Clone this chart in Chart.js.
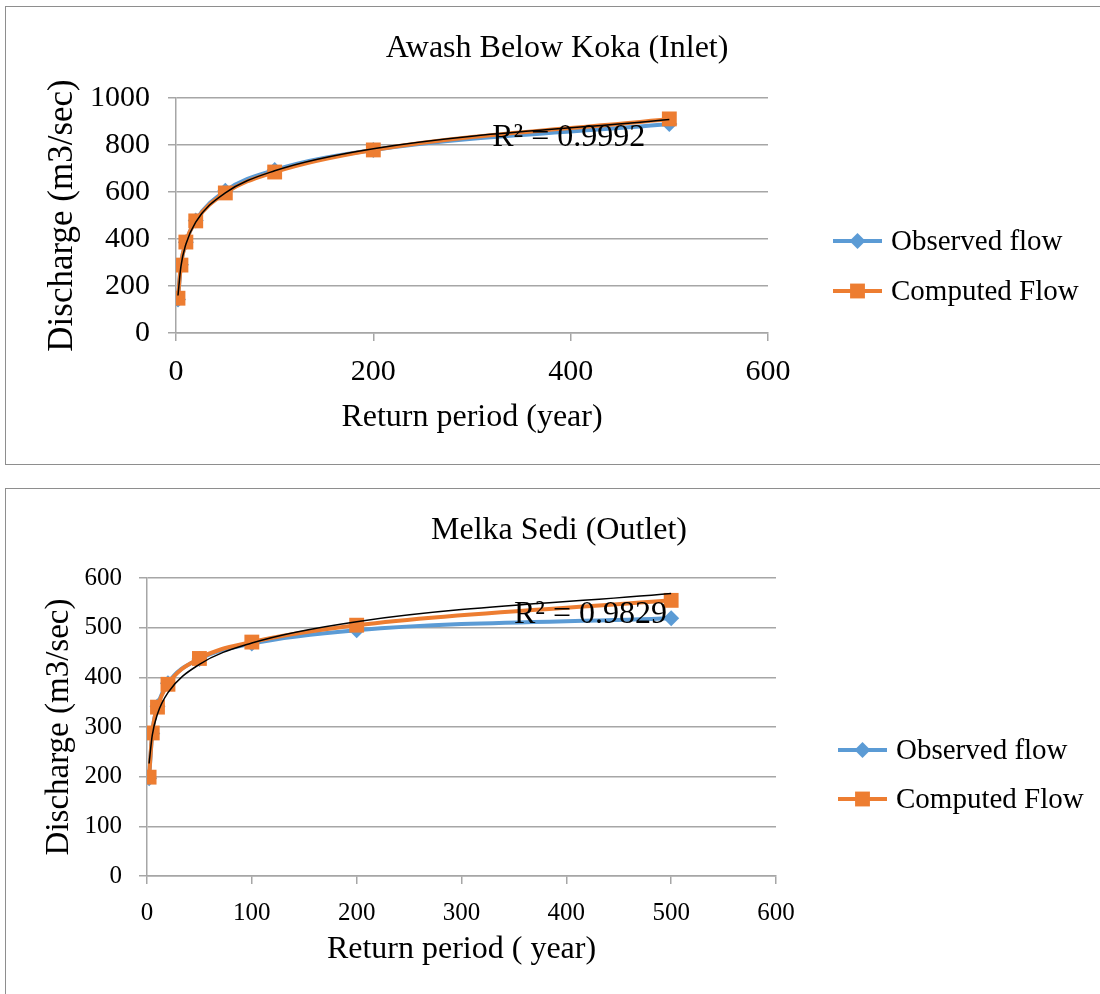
<!DOCTYPE html>
<html>
<head>
<meta charset="utf-8">
<script src="https://cdn.jsdelivr.net/npm/chart.js@4.4.1/dist/chart.umd.min.js"></script>
<style>
  body { margin: 0; background: #fff; width: 1100px; height: 994px; overflow: hidden; position: relative; }
  .box { position: absolute; left: 5px; width: 1110px; border: 1.5px solid #8e8e8e; border-right: none; box-sizing: border-box; }
  #box1 { top: 6px; height: 459px; }
  #box2 { top: 488px; height: 540px; }
  canvas { position: absolute; left: 0; }
  #inlet { top: 0; }
  #outlet { top: 480px; }
</style>
</head>
<body>
<div class="box" id="box1"></div>
<div class="box" id="box2"></div>
<canvas id="inlet" width="1100" height="470"></canvas>
<canvas id="outlet" width="1100" height="514"></canvas>
<script>
// return periods (years)
const returnPeriod = [2, 5, 10, 20, 50, 100, 200, 500];

// Awash Below Koka (Inlet)
const inletObserved = [143, 290, 386, 479, 605, 694, 779, 889];
const inletComputed = [148, 289, 387, 477, 596, 685, 779, 911];

// Melka Sedi (Outlet)
const outletObserved = [197, 287, 342, 388, 437, 468, 495, 519];
const outletComputed = [199, 288, 340, 386, 438, 471, 505, 555];

const BLUE = '#5b9bd5';
const ORANGE = '#ed7d31';
const GRID = '#a6a6a6';
const SERIF = "'Liberation Serif', 'Times New Roman', serif";

// logarithmic trendline (least squares on ln x), like the spreadsheet does
function logTrend(xs, ys) {
  const lx = xs.map(Math.log);
  const n = xs.length;
  const mx = lx.reduce((a, b) => a + b, 0) / n;
  const my = ys.reduce((a, b) => a + b, 0) / n;
  let sxy = 0, sxx = 0;
  for (let i = 0; i < n; i++) {
    sxy += (lx[i] - mx) * (ys[i] - my);
    sxx += (lx[i] - mx) * (lx[i] - mx);
  }
  const a = sxy / sxx;
  const b = my - a * mx;
  return xs.map(x => ({ x: x, y: a * Math.log(x) + b }));
}

const toPoints = ys => returnPeriod.map((x, i) => ({ x: x, y: ys[i] }));

// draws title, legend and R² text
const extras = {
  id: 'extras',
  afterDraw(chart) {
    const c = chart.options.plugins.extras;
    const ctx = chart.ctx;
    ctx.save();
    ctx.fillStyle = '#000';
    ctx.textBaseline = 'middle';
    ctx.textAlign = 'center';
    ctx.font = c.titleSize + 'px ' + SERIF;
    ctx.fillText(c.title, c.titleX, c.titleY);

    // R² label
    const xs = chart.scales.x, ys = chart.scales.y;
    ctx.font = '32px ' + SERIF;
    ctx.fillText(c.r2, xs.getPixelForValue(c.r2At[0]), ys.getPixelForValue(c.r2At[1]));

    // legend
    const items = [
      { text: 'Observed flow', color: BLUE, style: 'rectRot', r: 8 },
      { text: 'Computed Flow', color: ORANGE, style: 'rect', r: 10.5 }
    ];
    ctx.textAlign = 'left';
    ctx.font = '29px ' + SERIF;
    items.forEach((it, i) => {
      const y = c.legendY[i];
      ctx.strokeStyle = it.color;
      ctx.lineWidth = 4;
      ctx.beginPath();
      ctx.moveTo(c.legendX, y);
      ctx.lineTo(c.legendX + 49, y);
      ctx.stroke();
      ctx.fillStyle = it.color;
      Chart.helpers.drawPoint(ctx, { pointStyle: it.style, radius: it.r, borderWidth: 0 }, c.legendX + 24.5, y);
      ctx.fillStyle = '#000';
      ctx.fillText(it.text, c.legendX + 58, y + 1);
    });
    ctx.restore();
  }
};

function buildChart(canvas, cfg) {
  const H = canvas.height;
  return new Chart(canvas, {
    type: 'scatter',
    data: {
      datasets: [
        {
          label: 'Trend',
          data: logTrend(returnPeriod, cfg.computed),
          borderColor: '#000',
          borderWidth: 1.5,
          pointRadius: 0,
          showLine: true,
          tension: 0.4,
          cubicInterpolationMode: 'monotone',
          order: 0
        },
        {
          label: 'Computed Flow',
          data: toPoints(cfg.computed),
          borderColor: ORANGE,
          backgroundColor: ORANGE,
          borderWidth: 4,
          pointStyle: 'rect',
          pointRadius: 10.5,
          pointBorderWidth: 0,
          showLine: true,
          tension: 0.4,
          cubicInterpolationMode: 'monotone',
          order: 1
        },
        {
          label: 'Observed flow',
          data: toPoints(cfg.observed),
          borderColor: BLUE,
          backgroundColor: BLUE,
          borderWidth: 4,
          pointStyle: 'rectRot',
          pointRadius: 8,
          pointBorderWidth: 0,
          showLine: true,
          tension: 0.4,
          cubicInterpolationMode: 'monotone',
          order: 2
        }
      ]
    },
    options: {
      responsive: false,
      animation: false,
      layout: { padding: { left: 0, top: cfg.area.top, right: 1100 - cfg.area.right, bottom: 0 } },
      plugins: {
        legend: { display: false },
        tooltip: { enabled: false },
        extras: cfg.extras
      },
      scales: {
        x: {
          type: 'linear',
          min: 0,
          max: 600,
          ticks: { stepSize: cfg.xStep, padding: cfg.xTickPad, color: '#000', font: { family: SERIF, size: cfg.tickSize } },
          grid: { drawOnChartArea: false, drawTicks: true, tickLength: 8, color: GRID, lineWidth: 1.5 },
          border: { color: GRID, width: 1.5 },
          title: {
            display: true,
            text: cfg.xTitle,
            color: '#000',
            font: { family: SERIF, size: 32 },
            padding: { top: 0, bottom: cfg.xTitlePad }
          },
          afterFit: s => { s.height = H - cfg.area.bottom; }
        },
        y: {
          type: 'linear',
          min: 0,
          max: cfg.yMax,
          ticks: {
            stepSize: cfg.yStep, padding: cfg.yTickPad, color: '#000',
            font: { family: SERIF, size: cfg.tickSize },
            callback: v => String(v)
          },
          grid: { color: GRID, lineWidth: 1.5, tickLength: 8 },
          border: { color: GRID, width: 1.5 },
          title: {
            display: true,
            text: 'Discharge (m3/sec)',
            color: '#000',
            font: { family: SERIF, size: cfg.yTitleSize },
            padding: { top: cfg.yTitlePad, bottom: 0 }
          },
          afterFit: s => { s.width = cfg.area.left; }
        }
      }
    },
    plugins: [extras]
  });
}

buildChart(document.getElementById('inlet'), {
  observed: inletObserved,
  computed: inletComputed,
  area: { left: 176, right: 768, top: 98, bottom: 333 },
  yMax: 1000, yStep: 200, xStep: 200,
  tickSize: 30, xTickPad: 13, yTickPad: 18,
  xTitle: 'Return period (year)', xTitlePad: 33, yTitlePad: 42, yTitleSize: 35,
  extras: {
    title: 'Awash Below Koka (Inlet)', titleSize: 32, titleX: 557, titleY: 49,
    r2: 'R² = 0.9992', r2At: [398, 830],
    legendX: 833, legendY: [241, 291]
  }
});

buildChart(document.getElementById('outlet'), {
  observed: outletObserved,
  computed: outletComputed,
  area: { left: 147, right: 776, top: 98, bottom: 396 },
  yMax: 600, yStep: 100, xStep: 100,
  tickSize: 25, xTickPad: 14, yTickPad: 17,
  xTitle: 'Return period ( year)', xTitlePad: 25, yTitlePad: 40, yTitleSize: 33,
  extras: {
    title: 'Melka Sedi (Outlet)', titleSize: 32, titleX: 559, titleY: 51,
    r2: 'R² = 0.9829', r2At: [423, 527],
    legendX: 838, legendY: [270, 319]
  }
});
</script>
</body>
</html>
